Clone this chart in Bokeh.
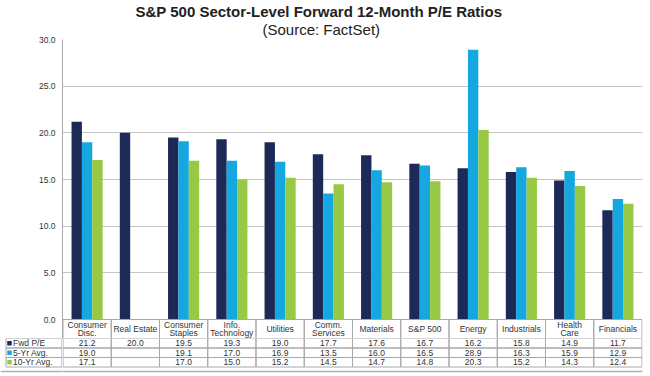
import numpy as np
from bokeh.plotting import figure
from bokeh.layouts import column, row
from bokeh.models import (FactorRange, Range1d, FixedTicker, NumeralTickFormatter,
                          ColumnDataSource, Title)
from bokeh.transform import dodge
from bokeh.core.properties import value
from bokeh.embed import file_html
from bokeh.resources import INLINE

categories = ["Consumer Disc.", "Real Estate", "Consumer Staples", "Info. Technology",
              "Utilities", "Comm. Services", "Materials", "S&P 500", "Energy",
              "Industrials", "Health Care", "Financials"]
header_line1 = ["Consumer", "", "Consumer", "Info.", "", "Comm.", "", "", "", "", "Health", ""]
header_line2 = ["Disc.", "", "Staples", "Technology", "", "Services", "", "", "", "", "Care", ""]
header_single = ["", "Real Estate", "", "", "Utilities", "", "Materials", "S&P 500", "Energy",
                 "Industrials", "", "Financials"]
fwd_pe = [21.2, 20.0, 19.5, 19.3, 19.0, 17.7, 17.6, 16.7, 16.2, 15.8, 14.9, 11.7]
avg_5yr = [19.0, None, 19.1, 17.0, 16.9, 13.5, 16.0, 16.5, 28.9, 16.3, 15.9, 12.9]
avg_10yr = [17.1, None, 17.0, 15.0, 15.2, 14.5, 14.7, 14.8, 20.3, 15.2, 14.3, 12.4]
series_names = ["Fwd P/E", "5-Yr Avg.", "10-Yr Avg."]
y_ticks = [0, 5, 10, 15, 20, 25, 30]

colors = ["#1D2A57", "#14A7E0", "#98C944"]
FONT = "Liberation Sans"
GRID = "#C4C4C4"
BORDER = "#A8A8A8"
TXT = "#333333"

W, H = 650, 376
FR_L, FR_R, FR_T = 62, 642, 39
ZERO_Y = 319                 # pixel row of the value 0
HDR_PX = 19                  # header row height (inside the chart figure)
PPU = 280 / 30.0             # pixels per value unit
TOP_H = ZERO_Y + HDR_PX      # height of the chart figure
BOT_H = H - TOP_H            # height of the table-rows figures
ROW_PX = 9.5

series = [fwd_pe, avg_5yr, avg_10yr]
data = {"cat": categories}
for i, s in enumerate(series):
    data[f"s{i}"] = [np.nan if v is None else v for v in s]
src = ColumnDataSource(data)

xr = FactorRange(*categories, range_padding=0.01, range_padding_units="absolute")
y_min = -HDR_PX / PPU

p = figure(width=W, height=TOP_H, output_backend="svg", toolbar_location=None,
           x_range=xr, y_range=Range1d(y_min, 30),
           min_border_left=FR_L, min_border_right=W - FR_R,
           min_border_top=FR_T, min_border_bottom=0, title=None)
p.outline_line_color = None

bw = 0.215
offsets = [-bw, 0, bw]
for i in range(3):
    p.vbar(x=dodge("cat", offsets[i], range=xr), top=f"s{i}", bottom=0,
           width=bw, source=src, fill_color=colors[i], line_color=None)

p.xaxis.visible = False
p.xgrid.visible = False
p.ygrid.ticker = FixedTicker(ticks=y_ticks[1:])
p.ygrid.grid_line_color = GRID
yax = p.yaxis[0]
yax.ticker = FixedTicker(ticks=y_ticks)
yax.formatter = NumeralTickFormatter(format="0.0")
yax.major_tick_line_color = None
yax.major_tick_out = 0
yax.major_tick_in = 0
yax.minor_tick_line_color = None
yax.minor_tick_out = 0
yax.axis_line_color = BORDER
yax.major_label_text_font = FONT
yax.major_label_text_font_size = "8.5px"
yax.major_label_text_color = TXT
yax.major_label_standoff = 7

p.add_layout(Title(text="(Source: FactSet)", align="left", text_font=FONT,
                   text_font_size="15px", text_font_style="normal", text_color="#222222",
                   standoff=4, offset=200), "above")
p.add_layout(Title(text="S&P 500 Sector-Level Forward 12-Month P/E Ratios", align="left",
                   text_font=FONT, text_font_size="15px", text_font_style="bold",
                   text_color="#222222", standoff=-7, offset=73), "above")

# header row of the table (category names)
hdr_mid = y_min / 2
hdr_src = ColumnDataSource(dict(cat=categories, l1=header_line1, l2=header_line2, s=header_single))
p.rect(x="cat", y=hdr_mid, width=1, height=-y_min, source=hdr_src,
       fill_color=None, line_color=BORDER, line_width=1)
txt_kw = dict(source=hdr_src, text_align="center", text_baseline="middle",
              text_font=value(FONT), text_font_size="8.5px", text_color=TXT)
p.text(x="cat", y=hdr_mid, text="s", **txt_kw)
p.text(x="cat", y=hdr_mid + 4.2 / PPU, text="l1", **txt_kw)
p.text(x="cat", y=hdr_mid - 4.2 / PPU, text="l2", **txt_kw)

# value rows of the table
n_rows = BOT_H / ROW_PX
LINE_ROW = (371 - TOP_H) / ROW_PX
t = figure(width=W - FR_L, height=BOT_H, output_backend="svg", toolbar_location=None,
           x_range=xr, y_range=Range1d(n_rows, 0),
           min_border_left=0, min_border_right=W - FR_R, min_border_top=0, min_border_bottom=0,
           title=None)
lg = figure(width=FR_L, height=BOT_H, output_backend="svg", toolbar_location=None,
            x_range=Range1d(0, FR_L), y_range=Range1d(n_rows, 0),
            min_border_left=0, min_border_right=0, min_border_top=0, min_border_bottom=0,
            title=None)
for f in (t, lg):
    f.axis.visible = False
    f.grid.visible = False
    f.outline_line_color = None

for r, s in enumerate(series):
    labs = ["" if v is None else f"{v:.1f}" for v in s]
    rsrc = ColumnDataSource(dict(cat=categories, lab=labs))
    t.rect(x="cat", y=r + 0.5, width=1, height=1, source=rsrc,
           fill_color=None, line_color=BORDER, line_width=1)
    t.text(x="cat", y=r + 0.5, text="lab", source=rsrc, text_align="center",
           text_baseline="middle", text_font=value(FONT), text_font_size="8.5px",
           text_color=TXT)

leg_src = ColumnDataSource(dict(y=[r + 0.5 for r in range(3)], name=series_names, color=colors))
lg.rect(x=(5.5 + FR_L - 0.5) / 2, y="y", width=FR_L - 6, height=1, source=leg_src,
        fill_color=None, line_color=BORDER, line_width=1)
lg.scatter(x=9, y="y", marker="square", size=4.5, source=leg_src, fill_color="color",
           line_color=None)
lg.text(x=12.5, y="y", text="name", source=leg_src, text_baseline="middle",
        text_font=value(FONT), text_font_size="8.5px", text_color=TXT)

# bottom rule of the page
lg.segment(x0=0, x1=FR_L, y0=LINE_ROW, y1=LINE_ROW, line_color="#B0B0B0", line_width=1.5)
t.segment(x0=dodge("a", -0.6, range=xr), x1=dodge("b", 0.6, range=xr), y0=LINE_ROW, y1=LINE_ROW,
          source=ColumnDataSource(dict(a=[categories[0]], b=[categories[-1]])),
          line_color="#B0B0B0", line_width=1.5)

layout = column(p, row(lg, t, spacing=0), spacing=0)
open("out.html", "w").write(file_html(layout, INLINE))
